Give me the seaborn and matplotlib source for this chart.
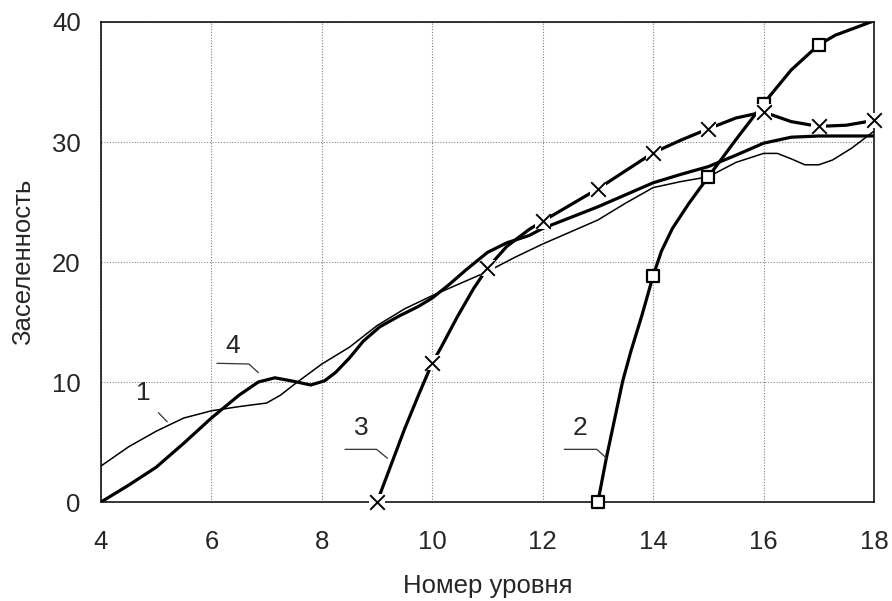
import numpy as np
import pandas as pd
import matplotlib
matplotlib.use("Agg")
import matplotlib.pyplot as plt
import seaborn as sns

# curve 1 (thin line)
x1 = [4.0, 4.5, 5.0, 5.5, 6.0, 6.5, 7.0, 7.25, 7.5, 8.0, 8.5, 9.0, 9.5, 10.0, 10.5, 11.0, 11.5,
      12.0, 12.5, 13.0, 13.5, 14.0, 14.5, 15.0, 15.5, 16.0, 16.25, 16.5, 16.75, 17.0, 17.25, 17.6, 18.0]
y1 = [3.0, 4.6, 5.9, 7.0, 7.6, 7.95, 8.25, 8.9, 9.8, 11.5, 12.9, 14.7, 16.1, 17.2, 18.2, 19.2, 20.4,
      21.5, 22.5, 23.5, 24.9, 26.2, 26.7, 27.1, 28.3, 29.05, 29.05, 28.6, 28.1, 28.1, 28.5, 29.5, 30.9]

# curve 4 (thick wavy line)
x4 = [4.0, 4.5, 5.0, 5.5, 6.0, 6.5, 6.85, 7.15, 7.5, 7.8, 8.05, 8.25, 8.5, 8.75, 9.05, 9.4, 9.75,
      10.0, 10.3, 10.6, 11.0, 11.35, 11.75, 12.0, 12.5, 13.0, 13.5, 14.0, 14.5, 15.0, 15.5, 16.0,
      16.5, 17.0, 18.0]
y4 = [0.0, 1.4, 2.9, 4.9, 7.0, 8.9, 10.0, 10.35, 10.05, 9.75, 10.1, 10.8, 12.0, 13.4, 14.6, 15.5, 16.3,
      17.0, 18.1, 19.3, 20.8, 21.6, 22.2, 22.8, 23.7, 24.6, 25.6, 26.6, 27.3, 27.95, 28.9, 29.9,
      30.4, 30.5, 30.5]

# curve 2 (squares)
x2 = [13.0, 13.15, 13.45, 13.6, 13.8, 14.0, 14.15, 14.35, 14.65, 15.0, 15.5, 16.0, 16.5, 17.0,
      17.3, 17.65, 18.0]
y2 = [0.0, 3.6, 10.1, 12.6, 15.6, 18.85, 20.9, 22.8, 24.9, 27.1, 30.2, 33.2, 36.0, 38.1,
      38.9, 39.5, 40.1]
x2_mk = [13, 14, 15, 16, 17]
y2_mk = [0.0, 18.85, 27.1, 33.2, 38.1]

# curve 3 (crosses)
x3 = [9.0, 9.5, 9.75, 10.0, 10.15, 10.45, 10.75, 11.0, 11.35, 11.75, 12.0, 12.5, 13.0, 13.5,
      14.0, 14.5, 15.0, 15.5, 16.0, 16.5, 17.0, 17.5, 18.0]
y3 = [0.0, 6.1, 8.9, 11.6, 12.8, 15.4, 17.8, 19.5, 21.3, 22.7, 23.4, 24.75, 26.1, 27.6,
      29.1, 30.15, 31.1, 32.0, 32.5, 31.7, 31.3, 31.4, 31.8]
x3_mk = [9, 10, 11, 12, 13, 14, 15, 16, 17, 18]
y3_mk = [0.0, 11.6, 19.5, 23.4, 26.1, 29.1, 31.1, 32.5, 31.3, 31.8]

# curve labels: text position and leader polyline
lab_text = ["1", "4", "3", "2"]
lab_xy = [(4.77, 9.1), (6.39, 13.0), (8.72, 6.2), (12.68, 6.2)]
lead_x = [[5.04, 5.2], [6.1, 6.68, 6.85], [8.42, 8.99, 9.19], [12.39, 12.98, 13.16]]
lead_y = [[7.44, 6.69], [11.56, 11.5, 10.78], [4.39, 4.39, 3.64], [4.39, 4.39, 3.64]]

x_ticks = [4, 6, 8, 10, 12, 14, 16, 18]
y_ticks = [0, 10, 20, 30, 40]

sns.set_style("white")
plt.rcParams['font.family'] = ['Liberation Sans', 'DejaVu Sans']

fig = plt.figure(figsize=(8.92, 6.01), dpi=100)
ax = fig.add_axes([0.1132, 0.1647, 0.8666, 0.7987])

k = "black"
sns.lineplot(x=x1, y=y1, sort=False, estimator=None, color=k, lw=1.1, ax=ax)
sns.lineplot(x=x4, y=y4, sort=False, estimator=None, color=k, lw=2.3, ax=ax)
sns.lineplot(x=x2, y=y2, sort=False, estimator=None, color=k, lw=2.3, ax=ax)
sns.lineplot(x=x3, y=y3, sort=False, estimator=None, color=k, lw=2.3, ax=ax)

sns.scatterplot(x=x2_mk, y=y2_mk, marker="s", s=80, color="white", edgecolor=k,
                linewidth=1.6, ax=ax, zorder=4)
# white background behind the crosses
sns.scatterplot(x=x3_mk, y=y3_mk, marker="s", s=120, color="white", edgecolor="none",
                linewidth=0, ax=ax, zorder=5)
sns.scatterplot(x=x3_mk, y=y3_mk, marker="x", s=110, color=k, linewidth=1.4,
                ax=ax, zorder=6)
for c in ax.collections:
    c.set_clip_on(False)

for t, (tx, ty), lx, ly in zip(lab_text, lab_xy, lead_x, lead_y):
    ax.text(tx, ty, t, fontsize=19, ha="center", va="center")
    ax.plot(lx, ly, color="#333333", lw=0.9)

ax.set_xlim(4, 18)
ax.set_ylim(0, 40)
ax.set_xticks(x_ticks)
ax.set_yticks(y_ticks)
ax.set_xticks(range(5, 18, 2), minor=True)
ax.set_yticks([5, 15, 25, 35], minor=True)
ax.grid(True, which="major", color="#808080", linestyle=(0, (1, 1.5)), lw=0.8)
ax.tick_params(axis="both", which="major", direction="inout", length=11, width=1.1,
               labelsize=18.5, color=k)
ax.tick_params(axis="both", which="minor", direction="inout", length=10, width=1.1, color=k)
ax.tick_params(axis="x", which="major", pad=15)
ax.tick_params(axis="y", which="major", pad=9)
for s in ax.spines.values():
    s.set_color(k)
    s.set_linewidth(1.1)

ax.set_xlabel("Номер уровня", fontsize=18.5, labelpad=14)
ax.set_ylabel("Заселенность", fontsize=18.5, labelpad=12)

fig.savefig("out.png", dpi=100)
